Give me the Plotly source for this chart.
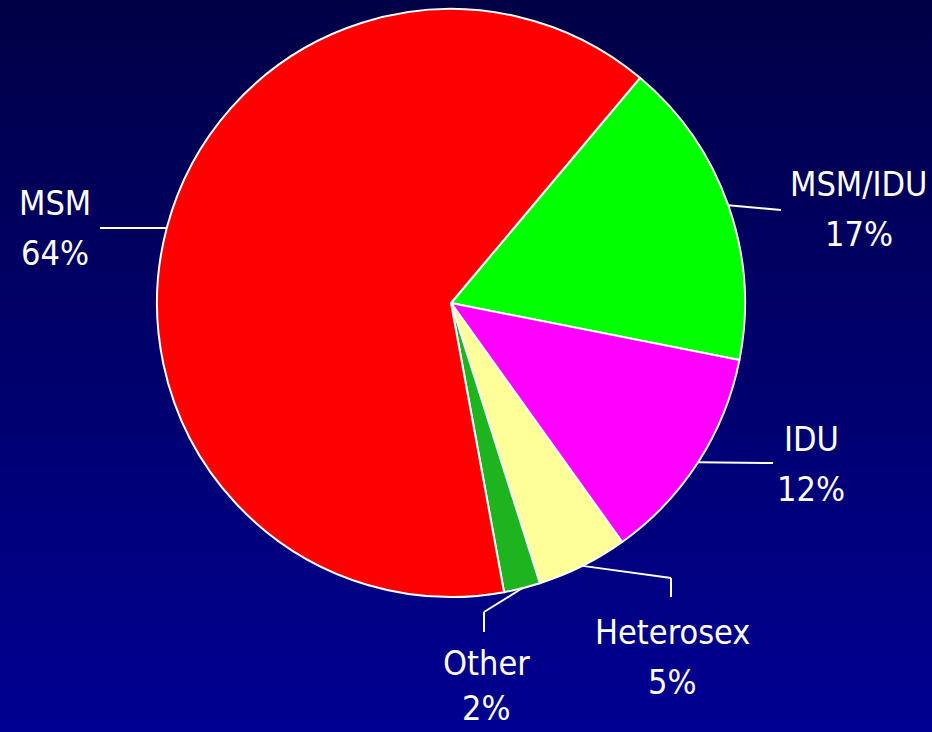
import math
import numpy as np
import plotly.graph_objects as go

# Exposure categories, listed clockwise starting from the MSM/IDU slice
categories = ["MSM/IDU", "IDU", "Heterosex", "Other", "MSM"]
percent = [17, 12, 5, 2, 64]
slice_colors = ["#00FF00", "#FF00FF", "#FFFF99", "#1EB41E", "#FF0000"]

W, H = 932, 732
CX, CY, R = 451, 303, 294          # pie centre and radius in pixels
START_ANGLE = 40                   # degrees clockwise from 12 o'clock
FONT = "DejaVu Sans Condensed, Liberation Sans Narrow, Arial Narrow, sans-serif"
FONT_SIZE = 34

# label placement: text centre x, baselines of both lines, leader-line bends (pixels)
label_layout = {
    "MSM/IDU":   {"x": 859, "base": (197, 247), "bends": [(781, 210)]},
    "IDU":       {"x": 811, "base": (452, 502), "bends": [(773, 463)]},
    "Heterosex": {"x": 672, "base": (645, 695), "bends": [(671, 578), (671, 597)]},
    "Other":     {"x": 486, "base": (676, 721), "bends": [(484, 612), (484, 632)]},
    "MSM":       {"x": 55,  "base": (216, 266), "bends": [(100, 228)]},
}


def px(x, y):
    return x / W, 1 - y / H


fig = go.Figure()

# vertical backdrop: dark navy at the top fading to blue at the bottom
n = 240
fig.add_trace(go.Heatmap(
    z=np.linspace(0, 1, n).reshape(-1, 1),
    x=[0.5], y=np.linspace(0, 1, n),
    colorscale=[[0, "#000092"], [1, "#000046"]],
    showscale=False, hoverinfo="skip", xaxis="x", yaxis="y",
))

fig.add_trace(go.Pie(
    labels=categories, values=percent,
    marker=dict(colors=slice_colors, line=dict(color="white", width=2)),
    sort=False, direction="clockwise", rotation=START_ANGLE,
    textinfo="none", hoverinfo="label+percent", showlegend=False,
    domain=dict(x=[(CX - R) / W, (CX + R) / W],
                y=[1 - (CY + R) / H, 1 - (CY - R) / H]),
))

shapes, annotations = [], []
total = sum(percent)
acc = 0.0
cap_mid = 0.729 * FONT_SIZE / 2 + 1
for name, val in zip(categories, percent):
    mid = START_ANGLE + 360.0 * (acc + val / 2) / total
    acc += val
    t = math.radians(mid)
    spec = label_layout[name]
    pts = [(CX + R * math.sin(t), CY - R * math.cos(t))] + spec["bends"]
    for (x0, y0), (x1, y1) in zip(pts[:-1], pts[1:]):
        a0, b0 = px(x0, y0)
        a1, b1 = px(x1, y1)
        shapes.append(dict(type="line", xref="paper", yref="paper",
                           x0=a0, y0=b0, x1=a1, y1=b1,
                           line=dict(color="white", width=2)))
    for text, base in zip((name, f"{val}%"), spec["base"]):
        tx, ty = px(spec["x"], base - cap_mid)
        annotations.append(dict(
            x=tx, y=ty, xref="paper", yref="paper", showarrow=False,
            xanchor="center", yanchor="middle", text=text,
            font=dict(family=FONT, size=FONT_SIZE, color="white"),
        ))

fig.update_layout(
    width=W, height=H,
    margin=dict(l=0, r=0, t=0, b=0),
    paper_bgcolor="#000070", plot_bgcolor="rgba(0,0,0,0)",
    xaxis=dict(visible=False, range=[0, 1], domain=[0, 1], fixedrange=True),
    yaxis=dict(visible=False, range=[0, 1], domain=[0, 1], fixedrange=True),
    shapes=shapes, annotations=annotations,
)

fig.write_html("out.html")
